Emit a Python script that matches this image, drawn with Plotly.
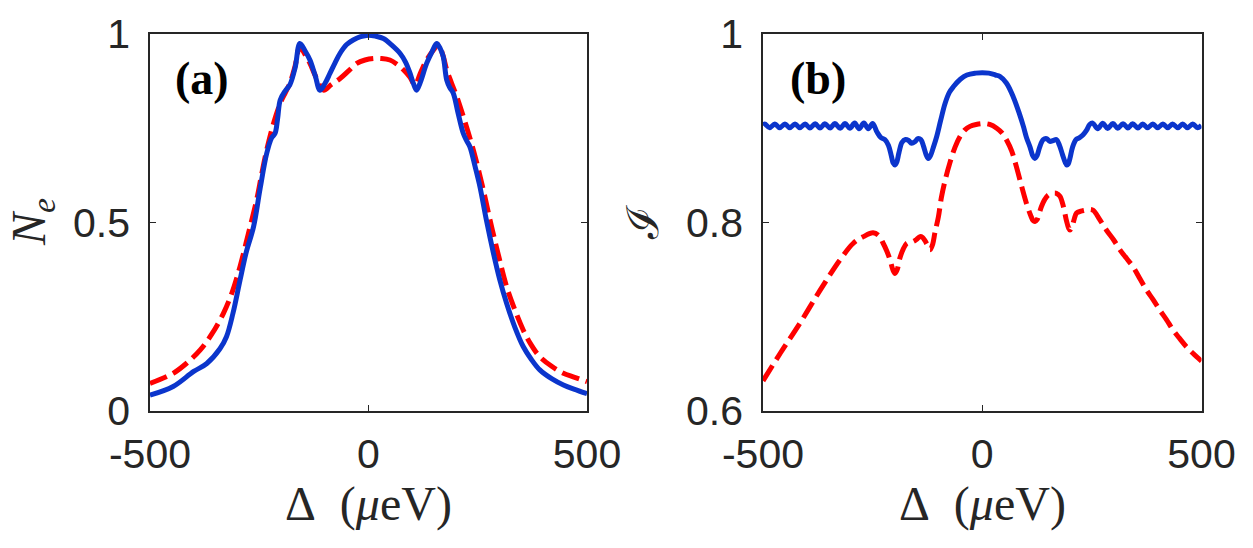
import plotly.graph_objects as go

# ---------------- data ----------------
# Panel (a): N_e vs Delta
a_blue_x = [-500, -447, -400, -370, -340, -325, -310, -294, -280, -263, -248, -233, -222, -214, -208, -202, -190, -180, -168, -157, -145, -134, -122, -111,
            -100, -88, -76, -65, -50, -35, -18, 0, 17, 34, 52, 72, 85, 95, 103, 110, 118, 133, 145, 156, 164, 171, 179, 186, 194, 205, 217, 225, 232,
            244, 255, 270, 286, 300, 316, 335, 354, 372, 392, 420, 446, 470, 500]
a_blue_y = [0.042, 0.065, 0.105, 0.126, 0.165, 0.197, 0.260, 0.347, 0.420, 0.489, 0.590, 0.683, 0.724, 0.736, 0.775, 0.825, 0.850, 0.865, 0.910, 0.975, 0.955, 0.931, 0.890, 0.851,
            0.868, 0.896, 0.925, 0.949, 0.972, 0.984, 0.993, 0.997, 0.994, 0.988, 0.972, 0.949, 0.925, 0.896, 0.868, 0.851, 0.870, 0.922, 0.952, 0.975, 0.962, 0.940, 0.878, 0.858, 0.843, 0.790, 0.736, 0.716, 0.701,
            0.648, 0.595, 0.505, 0.418, 0.350, 0.286, 0.222, 0.171, 0.138, 0.109, 0.085, 0.069, 0.058, 0.046]

a_red_x = [-500, -447, -415, -385, -358, -332, -312, -294, -275, -256, -245, -233, -218, -202, -190, -180, -168, -157, -145, -134, -120, -103,
           -85, -65, -45, -27, -8, 11, 30, 49, 65, 80, 95, 106, 120, 133, 147, 160, 170, 179, 190, 202, 220, 240, 260, 278, 297, 316, 335, 354,
           372, 392, 420, 446, 470, 500]
a_red_y = [0.073, 0.100, 0.128, 0.162, 0.205, 0.259, 0.315, 0.383, 0.470, 0.560, 0.625, 0.692, 0.760, 0.816, 0.845, 0.869, 0.915, 0.966, 0.945, 0.922, 0.885, 0.851,
           0.866, 0.882, 0.903, 0.922, 0.931, 0.935, 0.935, 0.931, 0.920, 0.905, 0.885, 0.865, 0.900, 0.931, 0.955, 0.971, 0.945, 0.905, 0.870, 0.834, 0.770, 0.692, 0.600, 0.507, 0.415, 0.330, 0.268, 0.215,
           0.176, 0.144, 0.118, 0.100, 0.090, 0.078]

# Panel (b): I vs Delta
b_blue_x = [-500, -496, -485, -473, -462, -450, -439, -427, -416, -404, -393, -381, -370, -359, -347, -336, -324, -313, -302, -291, -281, -270, -260, -250,
            -240, -231, -222, -214, -207, -203, -199, -195, -190, -183, -175, -168, -161, -153, -147, -140, -134, -128, -123, -118, -112, -104,
            -95, -85, -75, -66, -50, -35, -15, 0, 15, 30, 40, 55, 71, 85, 94, 101, 109, 115, 120, 125, 131, 139, 147, 154, 162, 169, 176, 183,
            189, 193, 196, 200, 206, 214, 222, 230, 238, 245,
            252, 263, 275, 286, 298, 309, 321, 332, 343, 355, 366, 377, 389, 400, 412, 423, 434, 446, 457, 468, 480, 491, 500]
b_blue_y = [0.9030, 0.9045, 0.9005, 0.9045, 0.9005, 0.9045, 0.9005, 0.9045, 0.9005, 0.9045, 0.9003, 0.9047, 0.9003, 0.9047, 0.9003, 0.9050, 0.9000, 0.9050, 0.9000, 0.9055, 0.8995, 0.9055, 0.8995, 0.9050,
            0.8960, 0.8900, 0.8880, 0.8820, 0.8700, 0.8630, 0.8610, 0.8640, 0.8740, 0.8850, 0.8880, 0.8870, 0.8840, 0.8860, 0.8890, 0.8880, 0.8810, 0.8720, 0.8680, 0.8710, 0.8790, 0.8910,
            0.9080, 0.9260, 0.9380, 0.9440, 0.9520, 0.9565, 0.9585, 0.9590, 0.9585, 0.9565, 0.9550, 0.9480, 0.9330, 0.9150, 0.9017, 0.8900, 0.8800, 0.8710, 0.8680, 0.8710, 0.8800, 0.8880, 0.8890, 0.8860, 0.8870, 0.8880, 0.8820, 0.8720,
            0.8640, 0.8610, 0.8620, 0.8680, 0.8800, 0.8880, 0.8900, 0.8930, 0.8980, 0.9040,
            0.9055, 0.8995, 0.9052, 0.8998, 0.9050, 0.9000, 0.9048, 0.9003, 0.9047, 0.9003, 0.9045, 0.9005, 0.9045, 0.9005, 0.9045, 0.9005, 0.9045, 0.9005, 0.9045, 0.9005, 0.9045, 0.9005, 0.9030]

b_red_x = [-500, -461, -416, -370, -325, -294, -271, -249, -236, -226, -218, -210, -204, -199, -194, -188, -180, -172, -164, -157, -150, -142, -136, -131, -125, -119, -113, -108,
           -100, -93, -84, -74, -62, -51, -40, -28, -14, 2, 17, 33, 45, 56, 67, 78, 90, 101, 110, 116, 120, 125, 130, 135, 142, 150, 160, 169, 177, 185, 192, 197, 200, 205,
           210, 215, 225, 234, 244, 253, 268, 283, 299, 314, 329, 344, 360, 375, 390, 405, 420, 435, 450, 466, 481, 500]
b_red_y = [0.632, 0.661, 0.693, 0.728, 0.760, 0.778, 0.785, 0.789, 0.786, 0.778, 0.770, 0.760, 0.750, 0.746, 0.750, 0.762, 0.772, 0.778, 0.779, 0.780, 0.782, 0.785, 0.784, 0.781, 0.776, 0.771, 0.777, 0.789,
           0.806, 0.827, 0.846, 0.863, 0.880, 0.891, 0.898, 0.902, 0.904, 0.905, 0.904, 0.900, 0.895, 0.887, 0.876, 0.859, 0.838, 0.820, 0.808, 0.802, 0.801, 0.803, 0.810, 0.817, 0.824, 0.829, 0.831, 0.831, 0.828, 0.817, 0.802, 0.794, 0.792, 0.796,
           0.804, 0.810, 0.812, 0.813, 0.814, 0.813, 0.803, 0.792, 0.782, 0.771, 0.762, 0.753, 0.740, 0.728, 0.718, 0.707, 0.697, 0.686, 0.677, 0.668, 0.661, 0.653]

x_ticks = [-500, 0, 500]
x_tick_labels = ["-500", "0", "500"]
a_y_ticks = [0, 0.5, 1]
a_y_tick_labels = ["0", "0.5", "1"]
b_y_ticks = [0.6, 0.8, 1]
b_y_tick_labels = ["0.6", "0.8", "1"]

# ---------------- figure ----------------
BLUE = "#0B35CC"
RED = "#FF0000"
AX = "#262626"
W, H = 1253, 548

fig = go.Figure()
fig.add_trace(go.Scatter(x=a_red_x, y=a_red_y, mode="lines", line=dict(color=RED, width=5, dash="18px,7px"),
                         xaxis="x", yaxis="y", showlegend=False, line_shape="spline"))
fig.add_trace(go.Scatter(x=a_blue_x, y=a_blue_y, mode="lines", line=dict(color=BLUE, width=5),
                         xaxis="x", yaxis="y", showlegend=False, line_shape="spline"))
fig.add_trace(go.Scatter(x=b_blue_x, y=b_blue_y, mode="lines", line=dict(color=BLUE, width=5),
                         xaxis="x2", yaxis="y2", showlegend=False, line_shape="spline"))
fig.add_trace(go.Scatter(x=b_red_x, y=b_red_y, mode="lines", line=dict(color=RED, width=5, dash="18px,7px"),
                         xaxis="x2", yaxis="y2", showlegend=False, line_shape="spline"))

tickfont = dict(family="Liberation Sans, Arial, sans-serif", size=41, color=AX)
common = dict(showline=True, linecolor=AX, linewidth=1.5, mirror="ticks", ticks="inside", ticklen=6,
              tickcolor=AX, tickwidth=1.2, showgrid=False, zeroline=False, tickfont=tickfont, automargin=False)

x0a, x1a = 150 / W, 587 / W
x0b, x1b = 763 / W, 1201.5 / W
y0, y1 = 1 - 411 / H, 1 - 34 / H

fig.update_layout(
    width=W, height=H, margin=dict(l=0, r=0, t=0, b=0, pad=0, autoexpand=False),
    paper_bgcolor="white", plot_bgcolor="white",
    xaxis=dict(domain=[x0a, x1a], range=[-500, 500], tickvals=x_ticks, ticktext=x_tick_labels, anchor="y", ticklabelstandoff=6, **common),
    yaxis=dict(domain=[y0, y1], range=[0, 1], tickvals=a_y_ticks, ticktext=a_y_tick_labels, anchor="x", ticklabelstandoff=10, **common),
    xaxis2=dict(domain=[x0b, x1b], range=[-500, 500], tickvals=x_ticks, ticktext=x_tick_labels, anchor="y2", ticklabelstandoff=6, **common),
    yaxis2=dict(domain=[y0, y1], range=[0.6, 1], tickvals=b_y_ticks, ticktext=b_y_tick_labels, anchor="x2", ticklabelstandoff=10, **common),
)

serif = "Liberation Serif, Times New Roman, serif"
ann = []
# x-axis titles
for cx in (368.5, 982):
    ann.append(dict(x=cx / W, y=1 - 504 / H, xref="paper", yref="paper", showarrow=False,
                    text="Δ&nbsp;&nbsp;(<i>μ</i>eV)", font=dict(family=serif, size=48, color=AX), xanchor="center", yanchor="middle"))
# y-axis titles
ann.append(dict(x=32 / W, y=1 - 222 / H, xref="paper", yref="paper", showarrow=False, textangle=-90,
                text="<i>N</i><sub><i>e</i></sub>", font=dict(family=serif, size=48, color=AX), xanchor="center", yanchor="middle"))
ann.append(dict(x=642 / W, y=1 - 222 / H, xref="paper", yref="paper", showarrow=False, textangle=-90,
                text="ℐ", font=dict(family="DejaVu Serif, serif", size=44, color=AX), xanchor="center", yanchor="middle"))
# panel labels
ann.append(dict(x=202 / W, y=1 - 78 / H, xref="paper", yref="paper", showarrow=False,
                text="<b>(a)</b>", font=dict(family=serif, size=46, color="black"), xanchor="center", yanchor="middle"))
ann.append(dict(x=818 / W, y=1 - 78 / H, xref="paper", yref="paper", showarrow=False,
                text="<b>(b)</b>", font=dict(family=serif, size=46, color="black"), xanchor="center", yanchor="middle"))
fig.update_layout(annotations=ann)

fig.write_html("out.html")
